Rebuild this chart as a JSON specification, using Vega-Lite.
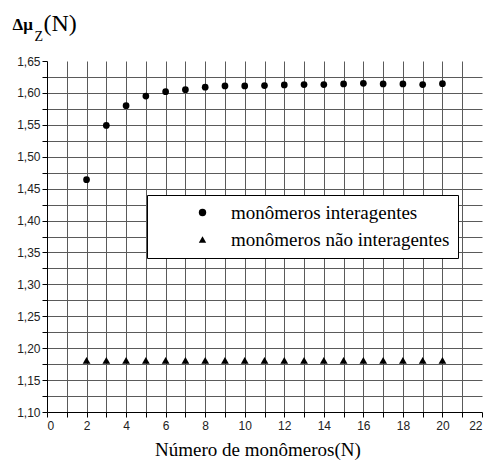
{
  "$schema": "https://vega.github.io/schema/vega-lite/v6.json",
  "width": 435,
  "height": 351,
  "autosize": {"type": "none"},
  "padding": {"left": 47, "top": 61, "right": 7, "bottom": 54},
  "config": {
    "view": {"stroke": null},
    "axis": {
      "labelFont": "Liberation Sans",
      "labelFontSize": 12,
      "labelColor": "#222",
      "domainColor": "#000",
      "domainWidth": 1,
      "tickColor": "#000",
      "gridColor": "#5a5a5a",
      "gridWidth": 1,
      "titleFont": "Liberation Serif",
      "titleColor": "#000",
      "titleFontWeight": "normal"
    },
    "legend": {
      "labelFont": "Liberation Serif",
      "labelFontSize": 19,
      "labelLimit": 400
    }
  },
  "data": {
    "values": [
      {"N": 2, "dmu": 1.464, "serie": "monômeros interagentes"},
      {"N": 3, "dmu": 1.549, "serie": "monômeros interagentes"},
      {"N": 4, "dmu": 1.580, "serie": "monômeros interagentes"},
      {"N": 5, "dmu": 1.595, "serie": "monômeros interagentes"},
      {"N": 6, "dmu": 1.602, "serie": "monômeros interagentes"},
      {"N": 7, "dmu": 1.605, "serie": "monômeros interagentes"},
      {"N": 8, "dmu": 1.609, "serie": "monômeros interagentes"},
      {"N": 9, "dmu": 1.611, "serie": "monômeros interagentes"},
      {"N": 10, "dmu": 1.611, "serie": "monômeros interagentes"},
      {"N": 11, "dmu": 1.6115, "serie": "monômeros interagentes"},
      {"N": 12, "dmu": 1.6125, "serie": "monômeros interagentes"},
      {"N": 13, "dmu": 1.613, "serie": "monômeros interagentes"},
      {"N": 14, "dmu": 1.613, "serie": "monômeros interagentes"},
      {"N": 15, "dmu": 1.614, "serie": "monômeros interagentes"},
      {"N": 16, "dmu": 1.615, "serie": "monômeros interagentes"},
      {"N": 17, "dmu": 1.614, "serie": "monômeros interagentes"},
      {"N": 18, "dmu": 1.614, "serie": "monômeros interagentes"},
      {"N": 19, "dmu": 1.613, "serie": "monômeros interagentes"},
      {"N": 20, "dmu": 1.6145, "serie": "monômeros interagentes"},
      {"N": 2, "dmu": 1.181, "serie": "monômeros não interagentes"},
      {"N": 3, "dmu": 1.181, "serie": "monômeros não interagentes"},
      {"N": 4, "dmu": 1.181, "serie": "monômeros não interagentes"},
      {"N": 5, "dmu": 1.181, "serie": "monômeros não interagentes"},
      {"N": 6, "dmu": 1.181, "serie": "monômeros não interagentes"},
      {"N": 7, "dmu": 1.181, "serie": "monômeros não interagentes"},
      {"N": 8, "dmu": 1.181, "serie": "monômeros não interagentes"},
      {"N": 9, "dmu": 1.181, "serie": "monômeros não interagentes"},
      {"N": 10, "dmu": 1.181, "serie": "monômeros não interagentes"},
      {"N": 11, "dmu": 1.181, "serie": "monômeros não interagentes"},
      {"N": 12, "dmu": 1.181, "serie": "monômeros não interagentes"},
      {"N": 13, "dmu": 1.181, "serie": "monômeros não interagentes"},
      {"N": 14, "dmu": 1.181, "serie": "monômeros não interagentes"},
      {"N": 15, "dmu": 1.181, "serie": "monômeros não interagentes"},
      {"N": 16, "dmu": 1.181, "serie": "monômeros não interagentes"},
      {"N": 17, "dmu": 1.181, "serie": "monômeros não interagentes"},
      {"N": 18, "dmu": 1.181, "serie": "monômeros não interagentes"},
      {"N": 19, "dmu": 1.181, "serie": "monômeros não interagentes"},
      {"N": 20, "dmu": 1.181, "serie": "monômeros não interagentes"}
    ]
  },
  "layer": [
    {
      "transform": [{"filter": "datum.serie == 'monômeros interagentes'"}],
      "mark": {"type": "point", "filled": true, "color": "#000", "opacity": 1, "size": 45},
      "encoding": {
        "x": {
          "field": "N", "type": "quantitative",
          "scale": {"domain": [0, 22], "nice": false, "zero": false},
          "axis": {
            "orient": "bottom",
            "values": [0,1,2,3,4,5,6,7,8,9,10,11,12,13,14,15,16,17,18,19,20,21,22],
            "labelExpr": "datum.value % 2 == 0 ? datum.label : ''",
            "tickSize": 5,
            "labelPadding": 3,
            "grid": false,
            "title": "Número de monômeros(N)",
            "titleFontSize": 19,
            "titleX": 210.5,
            "titleY": 43.5,
            "titleAlign": "center",
            "titleBaseline": "alphabetic"
          }
        },
        "y": {
          "field": "dmu", "type": "quantitative",
          "scale": {"domain": [1.1, 1.65], "nice": false, "zero": false},
          "axis": {
            "orient": "left",
            "values": [1.1,1.125,1.15,1.175,1.2,1.225,1.25,1.275,1.3,1.325,1.35,1.375,1.4,1.425,1.45,1.475,1.5,1.525,1.55,1.575,1.6,1.625,1.65],
            "labelExpr": "round(datum.value*1000) % 50 == 0 ? replace(format(datum.value, '.2f'), '.', ',') : ''",
            "tickSize": 5,
            "labelPadding": 2,
            "grid": false,
            "title": "Δμ",
            "titleFontSize": 17,
            "titleFontWeight": "bold",
            "titleAngle": 0,
            "titleX": -35,
            "titleY": -31.5,
            "titleAlign": "left",
            "titleBaseline": "alphabetic"
          }
        },
        "shape": {
          "field": "serie", "type": "nominal",
          "scale": {"domain": ["monômeros interagentes", "monômeros não interagentes"], "range": ["circle", "triangle-up"]},
          "legend": {
            "orient": "none",
            "legendX": 100,
            "legendY": 134,
            "title": null,
            "fillColor": "#fff",
            "strokeColor": "#000",
            "padding": 8,
            "labelFont": "Liberation Serif",
            "labelFontSize": 19,
            "labelLimit": 400,
            "labelColor": "#000",
            "labelOffset": 19,
            "symbolOffset": 38,
            "symbolSize": 55,
            "symbolFillColor": "#000",
            "symbolStrokeColor": "#000",
            "rowPadding": 7
          }
        }
      }
    },
    {
      "transform": [{"filter": "datum.serie == 'monômeros não interagentes'"}],
      "mark": {"type": "point", "filled": true, "color": "#000", "opacity": 1, "size": 60},
      "encoding": {
        "x": {
          "field": "N", "type": "quantitative",
          "scale": {"domain": [0, 22], "nice": false, "zero": false},
          "axis": {
            "orient": "top",
            "values": [1,2,3,4,5,6,7,8,9,10,11,12,13,14,15,16,17,18,19,20,21],
            "labels": false, "ticks": false, "domain": false, "grid": true,
            "title": "(N)",
            "titleFontSize": 24,
            "titleX": -4,
            "titleY": -31,
            "titleAlign": "left",
            "titleBaseline": "alphabetic"
          }
        },
        "y": {
          "field": "dmu", "type": "quantitative",
          "scale": {"domain": [1.1, 1.65], "nice": false, "zero": false},
          "axis": {
            "orient": "right",
            "values": [1.125,1.15,1.175,1.2,1.225,1.25,1.275,1.3,1.325,1.35,1.375,1.4,1.425,1.45,1.475,1.5,1.525,1.55,1.575,1.6,1.625],
            "labels": false, "ticks": false, "domain": false, "grid": true,
            "title": "Z",
            "titleFontSize": 14,
            "titleAngle": 0,
            "titleX": -448,
            "titleY": -21,
            "titleAlign": "left",
            "titleBaseline": "alphabetic"
          }
        },
        "shape": {
          "field": "serie", "type": "nominal",
          "scale": {"domain": ["monômeros interagentes", "monômeros não interagentes"], "range": ["circle", "triangle-up"]},
          "legend": null
        }
      }
    }
  ],
  "resolve": {"axis": {"x": "independent", "y": "independent"}}
}
